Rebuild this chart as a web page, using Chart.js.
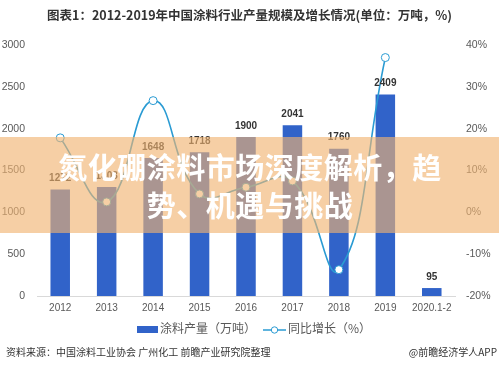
<!DOCTYPE html>
<html><head><meta charset="utf-8">
<script src="https://cdn.jsdelivr.net/npm/chart.js@4.4.1/dist/chart.umd.min.js"></script>
<style>
html,body{margin:0;padding:0;background:#fff;}
#wrap{position:relative;width:499px;height:370px;overflow:hidden;font-family:"Noto Sans CJK SC","Noto Sans",sans-serif;}
#title{position:absolute;left:0;top:5px;width:499px;text-align:center;font-size:12.5px;font-weight:bold;color:#333;}
#cv{position:absolute;left:0;top:0;}
#legend{position:absolute;top:319px;left:0;width:499px;font-size:12px;color:#595959;}
#legend .it{position:absolute;top:0;white-space:nowrap;}
#src{position:absolute;left:6px;top:344px;font-size:10px;color:#333;}
#app{position:absolute;right:2px;top:344px;font-size:10px;color:#333;}
#banner{position:absolute;left:0;top:137px;width:499px;height:96px;background:rgba(240,179,113,0.63);}
#btext{position:absolute;left:50px;top:147px;width:400px;text-align:center;font-size:29px;line-height:38px;font-weight:bold;color:#fff;letter-spacing:0.5px;}
</style></head>
<body>
<div id="wrap">
<canvas id="cv" width="499" height="370"></canvas>
<div id="title">图表1：2012-2019年中国涂料行业产量规模及增长情况(单位：万吨，%)</div>
<div id="legend">
  <span class="it" style="left:137px;"><span style="display:inline-block;width:21px;height:7px;background:#3163c9;vertical-align:middle;margin-right:2px;"></span>涂料产量（万吨）</span>
  <span class="it" style="left:263px;"><svg width="23" height="10" style="vertical-align:middle;margin-right:2px;"><line x1="0" y1="5" x2="23" y2="5" stroke="#2a9bd3" stroke-width="1.5"/><circle cx="11.5" cy="5" r="3.2" fill="#fff" stroke="#2a9bd3" stroke-width="1"/></svg>同比增长（%）</span>
</div>
<div id="src">资料来源：中国涂料工业协会 广州化工 前瞻产业研究院整理</div>
<div id="app">@前瞻经济学人APP</div>
<div id="banner"></div>
<div id="btext">氮化硼涂料市场深度解析，趋势、机遇与挑战</div>
</div>
<script>
const categories = ["2012","2013","2014","2015","2016","2017","2018","2019","2020.1-2"];
const production = [1272,1303,1648,1718,1900,2041,1760,2409,95];
const growth = [17.8,2.5,26.7,4.4,6.0,7.5,-13.7,37.0,null];
const leftTicks = [0,500,1000,1500,2000,2500,3000];
const rightTicks = [-20,-10,0,10,20,30,40];

const labelPlugin = {
  id:'barLabels',
  afterDatasetsDraw(chart){
    const ctx = chart.ctx;
    const meta = chart.getDatasetMeta(1);
    ctx.save();
    ctx.font = 'bold 10px "Liberation Sans", Arial, sans-serif';
    ctx.fillStyle = '#333';
    ctx.textAlign = 'center';
    ctx.textBaseline = 'bottom';
    meta.data.forEach((bar,i)=>{
      ctx.fillText(String(production[i]), bar.x, bar.y - 6);
    });
    ctx.restore();
  }
};

new Chart(document.getElementById('cv'), {
  data:{
    labels:categories,
    datasets:[
      {type:'line', label:'同比增长（%）', data:growth, yAxisID:'y1',
       borderColor:'#2a9bd3', borderWidth:1.6, tension:0.45,
       pointRadius:4, pointBackgroundColor:'#fff', pointBorderColor:'#2a9bd3', pointBorderWidth:1,
       spanGaps:false, order:0},
      {type:'bar', label:'涂料产量（万吨）', data:production, yAxisID:'y',
       backgroundColor:'#3163c9', barPercentage:0.42, categoryPercentage:1.0, order:1}
    ]
  },
  options:{
    responsive:false, animation:false,
    layout:{padding:{top:45,bottom:50,left:0,right:0}},
    plugins:{legend:{display:false}, title:{display:false}, tooltip:{enabled:false}},
    scales:{
      x:{grid:{display:false,drawTicks:false}, border:{display:true,color:'#d9d9d9'},
         ticks:{color:'#595959',font:{size:10,family:'"Liberation Sans", Arial, sans-serif'},padding:6}},
      y:{position:'left', min:0, max:3000, afterBuildTicks:s=>{s.ticks=leftTicks.map(v=>({value:v}));},
         grid:{display:false,drawTicks:false}, border:{display:false},
         ticks:{color:'#595959',font:{size:10.5,family:'"Liberation Sans", Arial, sans-serif'},padding:12,callback:v=>String(v)},
         afterFit:s=>{s.width=37;}},
      y1:{position:'right', min:-20, max:40, afterBuildTicks:s=>{s.ticks=rightTicks.map(v=>({value:v}));},
         grid:{display:false,drawTicks:false}, border:{display:false},
         ticks:{color:'#595959',font:{size:10.5,family:'"Liberation Sans", Arial, sans-serif'},padding:11,callback:v=>v+'%'},
         afterFit:s=>{s.width=44;}}
    }
  },
  plugins:[labelPlugin]
});
</script>
</body></html>
